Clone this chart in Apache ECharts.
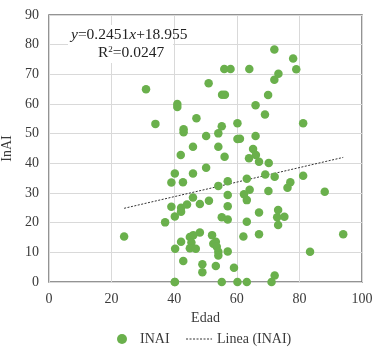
<!DOCTYPE html>
<html>
<head>
<meta charset="utf-8">
<script src="https://cdn.jsdelivr.net/npm/echarts@6/dist/echarts.min.js"></script>
<style>
  html, body { margin: 0; padding: 0; background: #fff; }
  #chart { width: 379px; height: 353px; }
</style>
</head>
<body>
<div id="chart"></div>
<script>
// Edad (x) vs InAI (y)
const edad = [
  31, 41, 41, 34, 43, 43, 72, 78, 79, 56, 58, 64, 73.3, 72, 51, 55.3, 56.2, 70, 66, 69,
  81.2, 60.2, 55.2, 47.1, 54.1, 50.2, 60.2, 61, 66, 46, 54.1, 65.2, 24, 37.1, 40.2, 39.1,
  42.8, 42.1, 39.1, 42.2, 42.2, 40.2, 44.1, 40.3, 42.2, 42.9, 40.2, 63.9, 66.1, 67.1, 70.2,
  56.1, 46, 50.2, 54.1, 57.1, 63.2, 69.1, 72.1, 81.2, 77.1, 76.2, 88.1, 57.1, 62.3, 64.1,
  63.2, 70.1, 46, 48.2, 51.1, 57.1, 67.1, 73.2, 72.9, 75.2, 73.2, 55.2, 57.1, 63.2, 94,
  67.1, 62.1, 48.2, 45, 46.1, 45.5, 45, 46.9, 52.1, 52.5, 53.3, 53.6, 54.1, 54.1, 57.1,
  83.4, 49, 49, 53.3, 59.1, 72.1, 55.2, 60.2, 63.2, 71.1, 40.2
];
const inai = [
  65, 60, 59, 53.3, 51.5, 50.5, 78.4, 75.3, 71.7, 71.8, 71.8, 71.8, 70.2, 68.2, 67, 63.1, 63.1, 63, 59.6, 56.5,
  53.5, 53.5, 52.5, 55.2, 50.1, 49.2, 48.2, 48.3, 49.2, 45.6, 45.6, 44.8, 15.3, 20.1, 36.6, 33.5,
  33.6, 42.8, 25.4, 25, 23.7, 22.1, 26.1, 11.2, 13.6, 7.1, 0, 41.7, 42.8, 40.5, 40.1,
  42.2, 36.6, 38.5, 32.4, 34, 34.8, 36.2, 35.5, 35.8, 33.6, 31.8, 30.4, 29.3, 29.6, 31.1,
  27.6, 30.7, 28.5, 26.3, 27.4, 25.5, 23.4, 24.3, 21.8, 22, 19.2, 21.8, 21.1, 20.3, 16.1,
  16.1, 15.3, 16.7, 15.2, 15.8, 13.3, 11.4, 11.2, 15.8, 12.9, 13.6, 11.9, 10.2, 8.9, 10.3,
  10.2, 6, 3.3, 5.4, 4.8, 2.2, 0, 0, 0, 0, 0
];
// Linea (INAI): y = 0.2451x + 18.955, drawn over the data range
const trendX = [24, 94];
const trendY = [24.84, 42.0];

const xTicks = [0, 20, 40, 60, 80, 100];
const yTicks = [0, 10, 20, 30, 40, 50, 60, 70, 80, 90];

const FONT = 'Liberation Serif';
const TXT = '#3a3a3a';
const GREEN = '#6ab04c';

const chart = echarts.init(document.getElementById('chart'), null, { renderer: 'canvas' });

const option = {
  animation: false,
  textStyle: { fontFamily: FONT },
  grid: {
    left: 49,
    right: 17,
    top: 15,
    bottom: 71,
    outerBoundsMode: 'none',
    containLabel: false,
    show: true,
    borderColor: '#707070',
    borderWidth: 1.5
  },
  xAxis: {
    type: 'value',
    min: xTicks[0],
    max: xTicks[xTicks.length - 1],
    interval: 20,
    name: 'Edad',
    nameLocation: 'middle',
    nameGap: 21,
    nameTextStyle: { fontFamily: FONT, fontSize: 14, color: TXT },
    axisLine: { show: false },
    axisTick: { show: false },
    axisLabel: { fontFamily: FONT, fontSize: 14, color: TXT, margin: 10 },
    splitLine: { lineStyle: { color: '#d9d9d9', width: 1 } }
  },
  yAxis: {
    type: 'value',
    min: yTicks[0],
    max: yTicks[yTicks.length - 1],
    interval: 10,
    name: 'InAI',
    nameLocation: 'middle',
    nameGap: 32,
    nameTextStyle: { fontFamily: FONT, fontSize: 14, color: TXT },
    axisLine: { show: false },
    axisTick: { show: false },
    axisLabel: { fontFamily: FONT, fontSize: 14, color: TXT, margin: 10 },
    splitLine: { lineStyle: { color: '#d9d9d9', width: 1 } }
  },
  legend: {
    bottom: 2,
    left: 112,
    itemGap: 16,
    itemWidth: 26,
    itemHeight: 10,
    textStyle: { fontFamily: FONT, fontSize: 14, color: TXT },
    data: [
      { name: 'INAI', icon: 'circle', itemStyle: { color: GREEN } },
      { name: 'Linea (INAI)', itemStyle: { opacity: 0 }, lineStyle: { color: '#333', width: 1, type: [2, 1.5] } }
    ]
  },
  graphic: [
    {
      // white label box of the trend equation
      type: 'rect',
      z: 1,
      shape: { x: 68, y: 25, width: 105, height: 38 },
      style: { fill: '#fff' }
    },
    {
      type: 'text',
      z: 2,
      left: 71,
      top: 27,
      style: {
        text: '{i|y}=0.2451{i|x}+18.955',
        font: '15.5px ' + FONT,
        fill: '#222',
        rich: { i: { fontStyle: 'italic', fontFamily: FONT, fontSize: 15.5, fill: '#222' } }
      }
    },
    {
      type: 'text',
      z: 2,
      left: 98,
      top: 45,
      style: {
        text: 'R{s|2}=0.0247',
        font: '15.5px ' + FONT,
        fill: '#222',
        rich: { s: { fontFamily: FONT, fontSize: 9, verticalAlign: 'top', fill: '#222' } }
      }
    }
  ],
  series: [
    {
      name: 'INAI',
      type: 'scatter',
      symbol: 'circle',
      symbolSize: 8.5,
      itemStyle: { color: GREEN, opacity: 1 },
      data: edad.map((x, i) => [x, inai[i]]),
      z: 3
    },
    {
      name: 'Linea (INAI)',
      type: 'line',
      symbol: 'none',
      lineStyle: { color: '#333', width: 1, type: [2, 1.5] },
      itemStyle: { color: '#333' },
      data: trendX.map((x, i) => [x, trendY[i]]),
      z: 2
    }
  ]
};

chart.setOption(option);
</script>
</body>
</html>
